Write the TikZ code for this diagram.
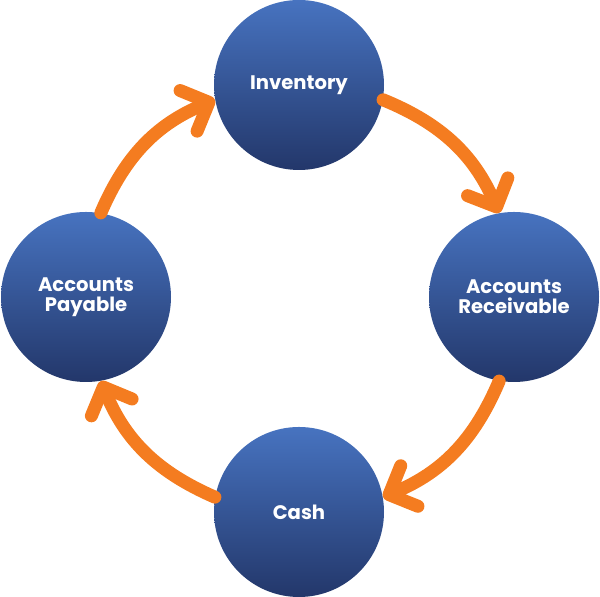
\documentclass[tikz,border=0pt]{standalone}
\usepackage{fontspec}
\setmainfont{Poppins}
\usetikzlibrary{arrows.meta}
\definecolor{stagetop}{HTML}{4773C0}
\definecolor{stagebot}{HTML}{23376A}
\definecolor{floworange}{HTML}{F47C20}
\tikzset{
  stage/.style={circle, minimum size=85pt, inner sep=0pt, top color=stagetop, bottom color=stagebot,
    text=white, align=center, font=\bfseries\fontsize{9.8}{10}\selectfont},
  flow/.style={floworange, line width=6.5pt, line cap=round,
    -{Straight Barb[length=11pt, width=22pt, round]}}
}
\begin{document}
\begin{tikzpicture}[x=0.5pt, y=0.5pt]
    \useasboundingbox (0,0) rectangle (600,597);
    \node[stage] (inv) at (299,512) {Inventory};
    \node[stage] (ar) at (514,300) {Accounts\\Receivable};
    \node[stage] (cash) at (299,85) {Cash};
    \node[stage] (ap) at (86,300) {Accounts\\Payable};
    \foreach \a/\b/\s/\e in {inv/ar/-10/100, ar/cash/-100/10, cash/ap/170/-80, ap/inv/80/190}
      \draw[flow] (\a.\s) to[bend left=22] (\b.\e);
  \end{tikzpicture}
\end{document}
